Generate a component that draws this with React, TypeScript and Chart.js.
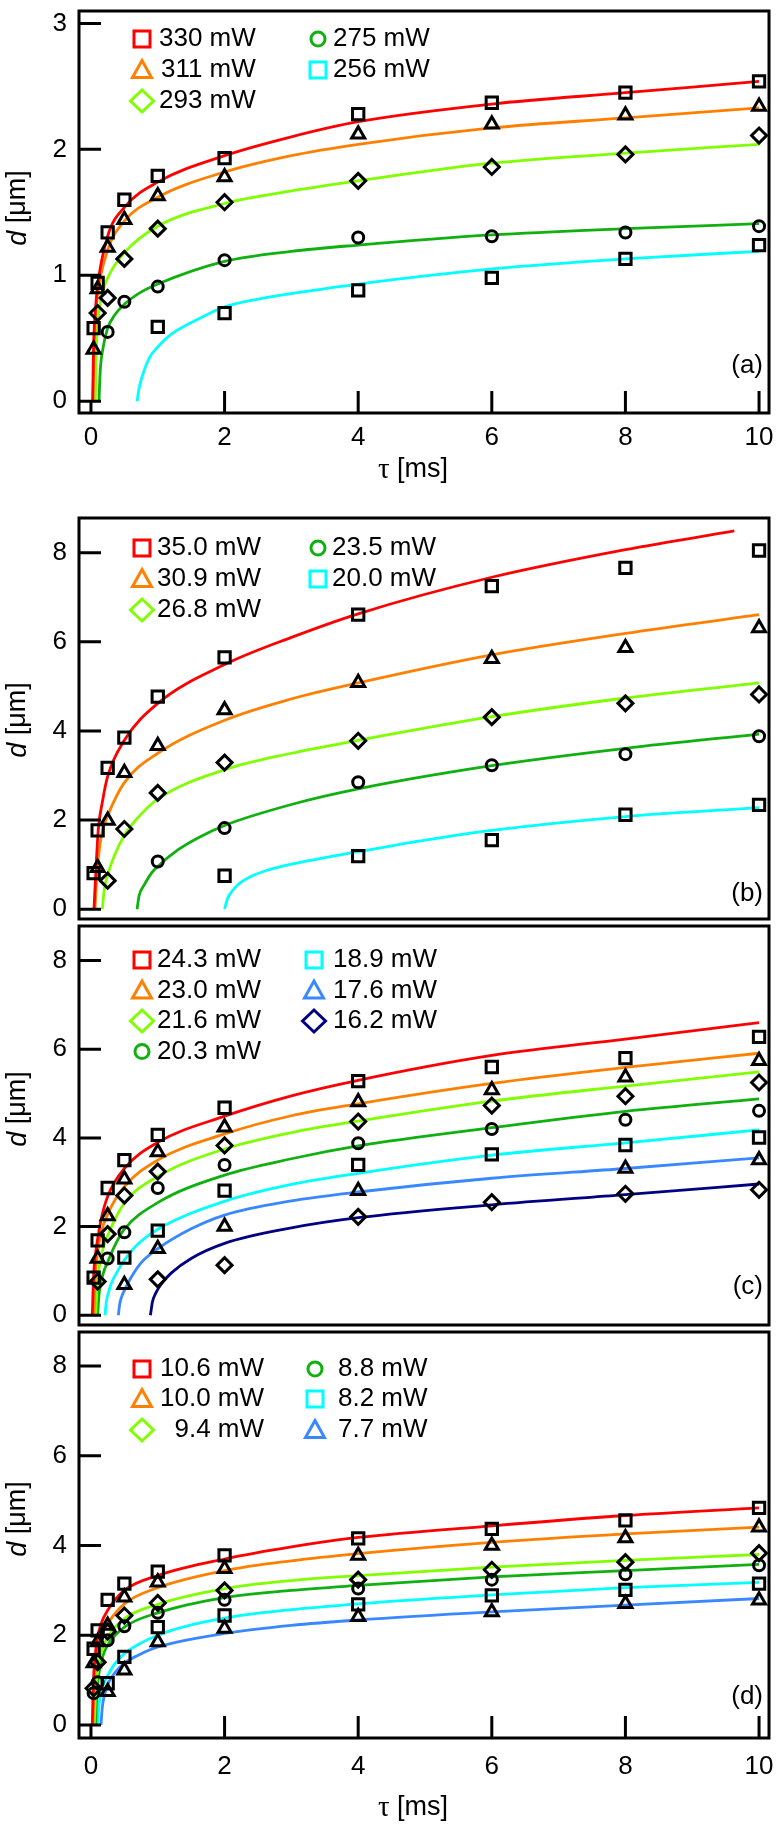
import React, { useEffect, useRef } from 'react';
import { Chart, registerables } from 'chart.js';

Chart.register(...registerables);

// ---------------- data ----------------
const TAU = [0.04, 0.1, 0.25, 0.5, 1, 2, 4, 6, 8, 10];
const X_TICKS = [0, 2, 4, 6, 8, 10];
const Y_TICKS_A = [0, 1, 2, 3];
const Y_TICKS_BCD = [0, 2, 4, 6, 8];

// panel (a)
const A_LABELS = ['330 mW', '311 mW', '293 mW', '275 mW', '256 mW'];
const A_330 = [0.58, 0.94, 1.34, 1.6, 1.79, 1.93, 2.28, 2.37, 2.45, 2.54];
const A_311 = [0.41, 0.89, 1.22, 1.44, 1.63, 1.78, 2.12, 2.2, 2.27, 2.34];
const A_293 = [null, 0.7, 0.82, 1.13, 1.37, 1.58, 1.75, 1.86, 1.96, 2.11];
const A_275 = [null, null, 0.55, 0.79, 0.91, 1.12, 1.3, 1.31, 1.34, 1.39];
const A_256 = [null, null, null, null, 0.59, 0.7, 0.88, 0.98, 1.13, 1.24];
const A_FIT_330_X = [0.025, 0.04, 0.07, 0.1, 0.25, 0.5, 1, 2, 3, 4, 6, 8, 10];
const A_FIT_330_Y = [0, 0.45, 0.75, 0.92, 1.31, 1.54, 1.74, 1.95, 2.1, 2.22, 2.36, 2.45, 2.54];
const A_FIT_311_X = [0.03, 0.05, 0.07, 0.1, 0.25, 0.5, 1, 2, 3, 4, 6, 8, 10];
const A_FIT_311_Y = [0, 0.45, 0.68, 0.85, 1.2, 1.43, 1.62, 1.82, 1.95, 2.04, 2.17, 2.25, 2.33];
const A_FIT_293_X = [0.065, 0.08, 0.1, 0.13, 0.18, 0.25, 0.5, 1, 2, 3, 4, 6, 8, 10];
const A_FIT_293_Y = [0, 0.4, 0.6, 0.75, 0.88, 0.98, 1.18, 1.39, 1.57, 1.67, 1.75, 1.89, 1.97, 2.04];
const A_FIT_275_X = [0.12, 0.14, 0.18, 0.25, 0.35, 0.5, 0.7, 1, 2, 3, 4, 6, 8, 10];
const A_FIT_275_Y = [0, 0.25, 0.42, 0.58, 0.68, 0.77, 0.85, 0.93, 1.11, 1.19, 1.24, 1.32, 1.37, 1.41];
const A_FIT_256_X = [0.69, 0.72, 0.78, 0.88, 1, 1.2, 1.6, 2, 2.6, 3.2, 4, 6, 8, 10];
const A_FIT_256_Y = [0, 0.1, 0.22, 0.35, 0.43, 0.53, 0.65, 0.75, 0.82, 0.87, 0.93, 1.05, 1.13, 1.19];

// panel (b)
const B_LABELS = ['35.0 mW', '30.9 mW', '26.8 mW', '23.5 mW', '20.0 mW'];
const B_350 = [0.81, 1.77, 3.17, 3.85, 4.77, 5.65, 6.61, 7.25, 7.66, 8.05];
const B_309 = [null, 0.93, 1.99, 3.06, 3.67, 4.47, 5.08, 5.62, 5.87, 6.31];
const B_268 = [null, null, 0.64, 1.8, 2.61, 3.29, 3.78, 4.31, 4.62, 4.82];
const B_235 = [null, null, null, null, 1.07, 1.82, 2.85, 3.23, 3.48, 3.88];
const B_200 = [null, null, null, null, null, 0.75, 1.19, 1.55, 2.12, 2.34];
const B_FIT_350_X = [0.045, 0.075, 0.11, 0.17, 0.25, 0.5, 1, 2, 3, 4, 6, 8, 9.63];
const B_FIT_350_Y = [0, 0.9, 1.8, 2.4, 2.98, 3.79, 4.62, 5.49, 6.1, 6.63, 7.45, 8.07, 8.49];
const B_FIT_309_X = [0.06, 0.09, 0.13, 0.18, 0.25, 0.5, 1, 2, 3, 4, 6, 8, 10];
const B_FIT_309_Y = [0, 0.8, 1.4, 1.8, 2.1, 2.84, 3.5, 4.24, 4.72, 5.08, 5.71, 6.19, 6.61];
const B_FIT_268_X = [0.17, 0.2, 0.25, 0.35, 0.5, 0.7, 1, 2, 3, 4, 6, 8, 10];
const B_FIT_268_Y = [0, 0.45, 0.77, 1.2, 1.66, 2.05, 2.47, 3.13, 3.5, 3.79, 4.32, 4.74, 5.08];
const B_FIT_235_X = [0.69, 0.72, 0.8, 0.9, 1, 1.3, 1.6, 2, 3, 4, 6, 8, 10];
const B_FIT_235_Y = [0, 0.3, 0.55, 0.8, 0.96, 1.33, 1.6, 1.88, 2.35, 2.7, 3.22, 3.61, 3.93];
const B_FIT_200_X = [2.0, 2.04, 2.1, 2.2, 2.4, 2.7, 3.0, 3.5, 4, 5, 6, 8, 10];
const B_FIT_200_Y = [0, 0.22, 0.38, 0.55, 0.74, 0.9, 1.01, 1.16, 1.29, 1.55, 1.77, 2.08, 2.28];

// panel (c)
const C_LABELS = ['24.3 mW', '23.0 mW', '21.6 mW', '20.3 mW', '18.9 mW', '17.6 mW', '16.2 mW'];
const C_243 = [0.85, 1.69, 2.87, 3.5, 4.07, 4.68, 5.28, 5.6, 5.8, 6.28];
const C_230 = [null, 1.28, 2.24, 3.07, 3.68, 4.24, 4.81, 5.08, 5.37, 5.74];
const C_216 = [null, 0.76, 1.83, 2.7, 3.24, 3.83, 4.37, 4.73, 4.94, 5.25];
const C_203 = [null, null, 1.28, 1.87, 2.87, 3.39, 3.88, 4.2, 4.41, 4.61];
const C_189 = [null, null, null, 1.3, 1.91, 2.81, 3.39, 3.63, 3.84, 4.01];
const C_176 = [null, null, null, 0.69, 1.5, 2.0, 2.81, null, 3.31, 3.5];
const C_162 = [null, null, null, null, 0.81, 1.13, 2.22, 2.55, 2.74, 2.83];
const C_FIT_243_X = [0.02, 0.04, 0.07, 0.1, 0.15, 0.25, 0.5, 1, 2, 3, 4, 6, 8, 10];
const C_FIT_243_Y = [0, 0.9, 1.4, 1.72, 2.15, 2.68, 3.31, 3.9, 4.49, 4.95, 5.3, 5.86, 6.23, 6.6];
const C_FIT_230_X = [0.045, 0.06, 0.08, 0.1, 0.15, 0.25, 0.5, 1, 2, 3, 4, 6, 8, 10];
const C_FIT_230_Y = [0, 0.75, 1.15, 1.43, 1.85, 2.28, 2.9, 3.5, 4.09, 4.5, 4.77, 5.23, 5.59, 5.91];
const C_FIT_216_X = [0.07, 0.085, 0.1, 0.13, 0.18, 0.25, 0.5, 1, 2, 3, 4, 6, 8, 10];
const C_FIT_216_Y = [0, 0.5, 0.8, 1.15, 1.5, 1.8, 2.53, 3.13, 3.75, 4.12, 4.38, 4.83, 5.17, 5.49];
const C_FIT_203_X = [0.1, 0.12, 0.15, 0.2, 0.25, 0.35, 0.5, 1, 2, 3, 4, 6, 8, 10];
const C_FIT_203_Y = [0, 0.45, 0.75, 1.02, 1.2, 1.55, 1.94, 2.54, 3.16, 3.53, 3.82, 4.23, 4.6, 4.88];
const C_FIT_189_X = [0.21, 0.23, 0.26, 0.3, 0.4, 0.5, 0.7, 1, 2, 3, 4, 6, 8, 10];
const C_FIT_189_Y = [0, 0.3, 0.5, 0.7, 1.0, 1.24, 1.6, 1.94, 2.57, 2.95, 3.2, 3.61, 3.89, 4.18];
const C_FIT_176_X = [0.41, 0.43, 0.46, 0.5, 0.6, 0.75, 1, 1.5, 2, 3, 4, 6, 8, 10];
const C_FIT_176_Y = [0, 0.25, 0.42, 0.56, 0.85, 1.18, 1.5, 1.95, 2.26, 2.58, 2.78, 3.09, 3.31, 3.55];
const C_FIT_162_X = [0.89, 0.92, 0.97, 1.05, 1.2, 1.5, 2, 3, 4, 6, 8, 10];
const C_FIT_162_Y = [0, 0.3, 0.5, 0.7, 0.95, 1.28, 1.62, 1.97, 2.2, 2.49, 2.72, 2.96];

// panel (d)
const D_LABELS = ['10.6 mW', '10.0 mW', '9.4 mW', '8.8 mW', '8.2 mW', '7.7 mW'];
const D_106 = [1.7, 2.11, 2.79, 3.15, 3.42, 3.78, 4.16, 4.37, 4.56, 4.84];
const D_100 = [1.38, 1.85, 2.22, 2.85, 3.18, 3.48, 3.78, 4.0, 4.17, 4.41];
const D_94 = [0.82, 1.4, 2.08, 2.44, 2.72, 3.0, 3.24, 3.46, 3.63, 3.83];
const D_88 = [0.71, 0.95, 1.89, 2.2, 2.5, 2.79, 3.04, 3.24, 3.36, 3.56];
const D_82 = [null, null, 0.93, 1.52, 2.18, 2.44, 2.69, 2.89, 3.01, 3.15];
const D_77 = [null, null, 0.74, 1.22, 1.85, 2.15, 2.41, 2.52, 2.7, 2.78];
const D_FIT_106_X = [0.02, 0.035, 0.06, 0.1, 0.15, 0.25, 0.5, 1, 2, 3, 4, 6, 8, 10];
const D_FIT_106_Y = [0, 0.9, 1.5, 1.96, 2.25, 2.56, 3.0, 3.33, 3.7, 3.97, 4.18, 4.44, 4.67, 4.84];
const D_FIT_100_X = [0.03, 0.05, 0.07, 0.1, 0.15, 0.25, 0.5, 1, 2, 3, 4, 6, 8, 10];
const D_FIT_100_Y = [0, 0.9, 1.35, 1.7, 1.98, 2.26, 2.7, 3.06, 3.44, 3.66, 3.82, 4.07, 4.26, 4.41];
const D_FIT_94_X = [0.05, 0.065, 0.08, 0.1, 0.15, 0.25, 0.5, 1, 2, 3, 4, 6, 8, 10];
const D_FIT_94_Y = [0, 0.6, 0.95, 1.2, 1.6, 1.96, 2.37, 2.69, 3.04, 3.22, 3.33, 3.52, 3.67, 3.8];
const D_FIT_88_X = [0.07, 0.085, 0.1, 0.12, 0.17, 0.25, 0.5, 1, 2, 3, 4, 6, 8, 10];
const D_FIT_88_Y = [0, 0.6, 0.9, 1.15, 1.5, 1.78, 2.18, 2.5, 2.84, 3.0, 3.11, 3.3, 3.44, 3.58];
const D_FIT_82_X = [0.1, 0.12, 0.15, 0.2, 0.25, 0.35, 0.5, 1, 2, 3, 4, 6, 8, 10];
const D_FIT_82_Y = [0, 0.45, 0.75, 0.95, 1.1, 1.35, 1.59, 2.0, 2.38, 2.57, 2.7, 2.9, 3.06, 3.18];
const D_FIT_77_X = [0.15, 0.17, 0.2, 0.25, 0.35, 0.5, 0.7, 1, 2, 3, 4, 6, 8, 10];
const D_FIT_77_Y = [0, 0.4, 0.65, 0.9, 1.15, 1.38, 1.55, 1.74, 2.04, 2.22, 2.34, 2.52, 2.67, 2.82];

// ---------------- styles ----------------
const FONT = '"Liberation Sans", Arial, Helvetica, sans-serif';
const SERIF = '"Liberation Serif", "Times New Roman", serif';
const TICK_SIZE = 26;
const TEXT_SIZE = 26;
const TITLE_SIZE = 27;
const LEGEND_FONT = `26px ${FONT}`;
const RED = '#ff0000';
const ORANGE = '#ff8000';
const LIME = '#80ff00';
const GREEN = '#10b010';
const CYAN = '#00ffff';
const BLUE = '#3a88ff';
const NAVY = '#000080';
const MARKER_R: Record<string, number> = { rect: 8, triangle: 7.5, rectRot: 7.5, circle: 5.5 };

const mk = (label, pts, fitX, fitY, color, shape) => ({ label, pts, fitX, fitY, color, shape });

const PANELS = [
  {
    key: 'a', top: 0, height: 500, padTop: 5, padBottom: 0, xAxisH: 87, showX: true, xTickPad: 9,
    yMin: -0.094, yMax: 3.099, yTicks: Y_TICKS_A, perCol: 3,
    rows: [39, 70, 101], cols: [{ m: 142, t: 159 }, { m: 318, t: 333 }],
    panelLabel: '(a)', panelLabelY: 366, yTitleY: 208, xTitleY: 470,
    series: [
      mk(A_LABELS[0], A_330, A_FIT_330_X, A_FIT_330_Y, RED, 'rect'),
      mk(A_LABELS[1], A_311, A_FIT_311_X, A_FIT_311_Y, ORANGE, 'triangle'),
      mk(A_LABELS[2], A_293, A_FIT_293_X, A_FIT_293_Y, LIME, 'rectRot'),
      mk(A_LABELS[3], A_275, A_FIT_275_X, A_FIT_275_Y, GREEN, 'circle'),
      mk(A_LABELS[4], A_256, A_FIT_256_X, A_FIT_256_Y, CYAN, 'rect'),
    ],
  },
  {
    key: 'b', top: 505, height: 425, padTop: 13, padBottom: 5, xAxisH: 0, showX: false, xTickPad: 0,
    yMin: -0.22, yMax: 8.78, yTicks: Y_TICKS_BCD, perCol: 3,
    rows: [43, 74, 105], cols: [{ m: 142, t: 157 }, { m: 318, t: 332 }],
    panelLabel: '(b)', panelLabelY: 389, yTitleY: 215, xTitleY: null,
    series: [
      mk(B_LABELS[0], B_350, B_FIT_350_X, B_FIT_350_Y, RED, 'rect'),
      mk(B_LABELS[1], B_309, B_FIT_309_X, B_FIT_309_Y, ORANGE, 'triangle'),
      mk(B_LABELS[2], B_268, B_FIT_268_X, B_FIT_268_Y, LIME, 'rectRot'),
      mk(B_LABELS[3], B_235, B_FIT_235_X, B_FIT_235_Y, GREEN, 'circle'),
      mk(B_LABELS[4], B_200, B_FIT_200_X, B_FIT_200_Y, CYAN, 'rect'),
    ],
  },
  {
    key: 'c', top: 915, height: 421, padTop: 10, padBottom: 5, xAxisH: 0, showX: false, xTickPad: 0,
    yMin: -0.22, yMax: 8.78, yTicks: Y_TICKS_BCD, perCol: 4,
    rows: [45, 75.5, 106, 136.5], cols: [{ m: 142, t: 157 }, { m: 314, t: 333 }],
    panelLabel: '(c)', panelLabelY: 372, yTitleY: 194, xTitleY: null,
    series: [
      mk(C_LABELS[0], C_243, C_FIT_243_X, C_FIT_243_Y, RED, 'rect'),
      mk(C_LABELS[1], C_230, C_FIT_230_X, C_FIT_230_Y, ORANGE, 'triangle'),
      mk(C_LABELS[2], C_216, C_FIT_216_X, C_FIT_216_Y, LIME, 'rectRot'),
      mk(C_LABELS[3], C_203, C_FIT_203_X, C_FIT_203_Y, GREEN, 'circle'),
      mk(C_LABELS[4], C_189, C_FIT_189_X, C_FIT_189_Y, CYAN, 'rect'),
      mk(C_LABELS[5], C_176, C_FIT_176_X, C_FIT_176_Y, BLUE, 'triangle'),
      mk(C_LABELS[6], C_162, C_FIT_162_X, C_FIT_162_Y, NAVY, 'rectRot'),
    ],
  },
  {
    key: 'd', top: 1321, height: 504, padTop: 10, padBottom: 0, xAxisH: 87, showX: true, xTickPad: 13,
    yMin: -0.29, yMax: 8.76, yTicks: Y_TICKS_BCD, perCol: 3,
    rows: [48, 78, 109], cols: [{ m: 142, t: 160 }, { m: 315, t: 338 }],
    panelLabel: '(d)', panelLabelY: 376, yTitleY: 198, xTitleY: 487,
    series: [
      mk(D_LABELS[0], D_106, D_FIT_106_X, D_FIT_106_Y, RED, 'rect'),
      mk(D_LABELS[1], D_100, D_FIT_100_X, D_FIT_100_Y, ORANGE, 'triangle'),
      mk(D_LABELS[2], D_94, D_FIT_94_X, D_FIT_94_Y, LIME, 'rectRot'),
      mk(D_LABELS[3], D_88, D_FIT_88_X, D_FIT_88_Y, GREEN, 'circle'),
      mk(D_LABELS[4], D_82, D_FIT_82_X, D_FIT_82_Y, CYAN, 'rect'),
      mk(D_LABELS[5], D_77, D_FIT_77_X, D_FIT_77_Y, BLUE, 'triangle'),
    ],
  },
];

// ---------------- drawing helpers ----------------
function drawLegendMarker(ctx, shape, x, y, color) {
  ctx.save();
  ctx.strokeStyle = color;
  ctx.lineWidth = 3;
  ctx.lineJoin = 'miter';
  ctx.beginPath();
  if (shape === 'rect') {
    ctx.rect(x - 8, y - 8, 16, 16);
  } else if (shape === 'triangle') {
    ctx.moveTo(x, y - 9.5);
    ctx.lineTo(x + 9.5, y + 7.5);
    ctx.lineTo(x - 9.5, y + 7.5);
    ctx.closePath();
  } else if (shape === 'rectRot') {
    ctx.moveTo(x, y - 11);
    ctx.lineTo(x + 11.5, y);
    ctx.lineTo(x, y + 11);
    ctx.lineTo(x - 11.5, y);
    ctx.closePath();
  } else {
    ctx.arc(x, y, 7, 0, Math.PI * 2);
  }
  ctx.stroke();
  ctx.restore();
}

const decorPlugin = {
  id: 'decor',
  afterDraw(chart, _args, o) {
    const { ctx, chartArea: a } = chart;
    const xs = chart.scales.x;
    const ys = chart.scales.y;
    ctx.save();
    ctx.strokeStyle = '#000';
    ctx.lineWidth = 3;
    ctx.beginPath();
    for (const t of ys.ticks) {
      const py = ys.getPixelForValue(t.value);
      ctx.moveTo(a.left, py);
      ctx.lineTo(a.left + 22, py);
    }
    if (o.xTicks) {
      for (const t of xs.ticks) {
        const px = xs.getPixelForValue(t.value);
        ctx.moveTo(px, a.bottom);
        ctx.lineTo(px, a.bottom - (t.value === 0 ? 13 : 22));
      }
    }
    ctx.stroke();
    ctx.strokeRect(a.left, a.top, a.right - a.left, a.bottom - a.top);

    // legend
    ctx.fillStyle = '#000';
    ctx.font = LEGEND_FONT;
    ctx.textBaseline = 'middle';
    ctx.textAlign = 'right';
    const items = o.items;
    o.cols.forEach((c, ci) => {
      const colItems = items.filter((it) => it.col === ci);
      if (!colItems.length) return;
      const w = Math.max(...colItems.map((it) => ctx.measureText(it.label).width));
      colItems.forEach((it) => {
        const y = o.rows[it.row];
        drawLegendMarker(ctx, it.shape, c.m, y, it.color);
        ctx.fillText(it.label, c.t + w, y);
      });
    });

    const nF = `${TEXT_SIZE}px ${FONT}`;
    const tnF = `${TITLE_SIZE}px ${FONT}`;
    const itF = `italic ${TITLE_SIZE}px ${FONT}`;

    // panel label
    ctx.font = nF;
    ctx.textAlign = 'right';
    ctx.fillText(o.panelLabel, 763, o.panelLabelY);

    // y title: d [μm]
    ctx.save();
    ctx.translate(18, o.yTitleY);
    ctx.rotate(-Math.PI / 2);
    ctx.textAlign = 'left';
    ctx.textBaseline = 'middle';
    ctx.font = itF;
    const wd = ctx.measureText('d').width;
    ctx.font = tnF;
    const wr = ctx.measureText(' [μm]').width;
    const s = -(wd + wr) / 2;
    ctx.font = itF;
    ctx.fillText('d', s, 0);
    ctx.font = tnF;
    ctx.fillText(' [μm]', s + wd, 0);
    ctx.restore();

    // x title: τ [ms]
    if (o.xTitleY != null) {
      ctx.textAlign = 'left';
      ctx.textBaseline = 'middle';
      const tF = `${TITLE_SIZE + 2}px ${SERIF}`;
      ctx.font = tF;
      const wt = ctx.measureText('τ').width;
      ctx.font = tnF;
      const wm = ctx.measureText(' [ms]').width;
      const sx = 413 - (wt + wm) / 2;
      ctx.font = tF;
      ctx.fillText('τ', sx, o.xTitleY);
      ctx.font = tnF;
      ctx.fillText(' [ms]', sx + wt, o.xTitleY);
    }
    ctx.restore();
  },
};

function buildConfig(p) {
  const datasets: any[] = [];
  p.series.forEach((s) => {
    datasets.push({
      label: s.label + ' fit',
      data: s.fitX.map((x, i) => ({ x, y: s.fitY[i] })),
      borderColor: s.color,
      backgroundColor: s.color,
      borderWidth: 2.8,
      pointRadius: 0,
      pointHoverRadius: 0,
      showLine: true,
      fill: false,
      cubicInterpolationMode: 'monotone',
      order: 2,
    });
  });
  p.series.forEach((s) => {
    datasets.push({
      label: s.label,
      data: TAU.map((x, i) => (s.pts[i] == null ? null : { x, y: s.pts[i] })).filter(Boolean),
      showLine: false,
      pointStyle: s.shape,
      pointRadius: MARKER_R[s.shape],
      pointHoverRadius: MARKER_R[s.shape],
      pointBorderColor: '#000',
      pointBackgroundColor: 'rgba(0,0,0,0)',
      pointBorderWidth: 3,
      pointHoverBorderWidth: 3,
      borderColor: '#000',
      order: 1,
    });
  });
  const items = p.series.map((s, i) => ({
    label: s.label, color: s.color, shape: s.shape,
    col: Math.floor(i / p.perCol), row: i % p.perCol,
  }));
  return {
    type: 'line',
    data: { datasets },
    plugins: [decorPlugin],
    options: {
      animation: false,
      responsive: false,
      events: [],
      layout: { padding: { left: 0, right: 8, top: p.padTop, bottom: p.padBottom } },
      plugins: {
        legend: { display: false },
        tooltip: { enabled: false },
        decor: {
          xTicks: p.showX, items, rows: p.rows, cols: p.cols,
          panelLabel: p.panelLabel, panelLabelY: p.panelLabelY,
          yTitleY: p.yTitleY, xTitleY: p.xTitleY,
        },
      },
      scales: {
        x: {
          type: 'linear',
          min: -0.179,
          max: 10.149,
          display: p.showX,
          grid: { display: false, drawTicks: false },
          border: { display: false },
          ticks: {
            color: '#000', font: { family: FONT, size: TICK_SIZE }, padding: p.xTickPad,
            maxRotation: 0, autoSkip: false,
          },
          afterBuildTicks: (sc) => { sc.ticks = X_TICKS.map((v) => ({ value: v })); },
          afterFit: (sc) => { sc.height = p.xAxisH; sc.paddingLeft = 0; sc.paddingRight = 0; },
        },
        y: {
          type: 'linear',
          min: p.yMin,
          max: p.yMax,
          grid: { display: false, drawTicks: false },
          border: { display: false },
          ticks: { color: '#000', font: { family: FONT, size: TICK_SIZE }, padding: 12 },
          afterBuildTicks: (sc) => { sc.ticks = p.yTicks.map((v) => ({ value: v })); },
          afterFit: (sc) => { sc.width = 79; sc.paddingTop = 0; sc.paddingBottom = 0; },
        },
      },
    },
  };
}

function Panel({ cfg }) {
  const ref = useRef<HTMLCanvasElement>(null);
  useEffect(() => {
    const chart = new Chart(ref.current as HTMLCanvasElement, buildConfig(cfg) as any);
    return () => chart.destroy();
  }, [cfg]);
  return (
    <canvas
      ref={ref}
      width={780}
      height={cfg.height}
      style={{ position: 'absolute', left: 0, top: cfg.top, width: 780, height: cfg.height }}
    />
  );
}

export default function App() {
  return (
    <div style={{ position: 'absolute', left: 0, top: 0, width: 780, height: 1825, background: '#fff', overflow: 'hidden' }}>
      {PANELS.map((p) => (
        <Panel key={p.key} cfg={p} />
      ))}
    </div>
  );
}
